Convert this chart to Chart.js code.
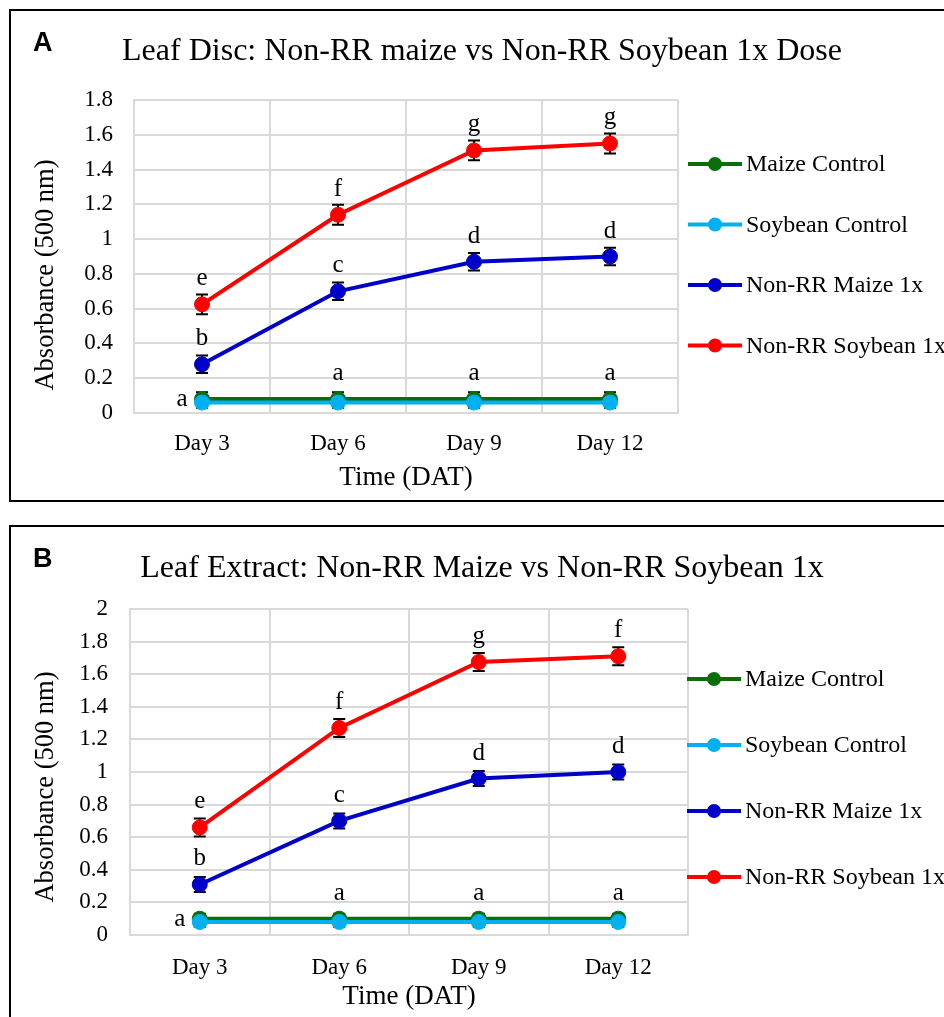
<!DOCTYPE html>
<html>
<head>
<meta charset="utf-8">
<script src="https://cdn.jsdelivr.net/npm/chart.js@4.4.0/dist/chart.umd.min.js"></script>
<style>
body{margin:0;background:#fff;overflow:hidden;width:944px;height:1017px;position:relative}
.panel{position:absolute;left:9px;width:1000px;border:2px solid #000;box-sizing:border-box}
#panelA{top:9px;height:493px}
#panelB{top:525px;height:600px}
canvas{position:absolute;left:12px}
#chartA{top:12px}
#chartB{top:528px}
.tag{position:absolute;left:33px;font:bold 27px "Liberation Sans",Arial,sans-serif;line-height:1}
.title{position:absolute;left:0;width:964px;text-align:center;font:32px "Liberation Serif","Times New Roman",serif;line-height:1;white-space:nowrap}
</style>
</head>
<body>
<div class="panel" id="panelA"></div>
<div class="panel" id="panelB"></div>
<canvas id="chartA" width="932" height="486"></canvas>
<canvas id="chartB" width="932" height="489"></canvas>
<div class="tag" style="top:29px">A</div>
<div class="tag" style="top:545px">B</div>
<div class="title" style="top:33px">Leaf Disc: Non-RR maize vs Non-RR Soybean 1x Dose</div>
<div class="title" style="top:550px">Leaf Extract: Non-RR Maize vs Non-RR Soybean 1x</div>
<script>
const days = ['Day 3', 'Day 6', 'Day 9', 'Day 12'];
const seriesNames = ['Maize Control', 'Soybean Control', 'Non-RR Maize 1x', 'Non-RR Soybean 1x'];
const seriesColors = ['#0a6e0a', '#00b0f0', '#0000c8', '#ff0000'];

// A: leaf disc
const discMaizeCtrl = [0.08, 0.08, 0.08, 0.08];
const discSoyCtrl = [0.06, 0.06, 0.06, 0.06];
const discMaize1x = [0.28, 0.70, 0.87, 0.90];
const discSoy1x = [0.625, 1.14, 1.51, 1.55];
const discMaizeCtrlErr = [0.04, 0.04, 0.04, 0.04];
const discSoyCtrlErr = [0.03, 0.03, 0.03, 0.03];
const discMaize1xErr = [0.05, 0.05, 0.05, 0.05];
const discSoy1xErr = [0.057, 0.057, 0.057, 0.057];
const discCtrlLetters = ['a', 'a', 'a', 'a'];
const discMaizeLetters = ['b', 'c', 'd', 'd'];
const discSoyLetters = ['e', 'f', 'g', 'g'];

// B: leaf extract
const extMaizeCtrl = [0.10, 0.10, 0.10, 0.10];
const extSoyCtrl = [0.08, 0.08, 0.08, 0.08];
const extMaize1x = [0.31, 0.70, 0.96, 1.00];
const extSoy1x = [0.66, 1.27, 1.675, 1.71];
const extMaizeCtrlErr = [0.03, 0.03, 0.03, 0.03];
const extSoyCtrlErr = [0.03, 0.03, 0.03, 0.03];
const extMaize1xErr = [0.046, 0.046, 0.046, 0.046];
const extSoy1xErr = [0.055, 0.055, 0.055, 0.055];
const extCtrlLetters = ['a', 'a', 'a', 'a'];
const extMaizeLetters = ['b', 'c', 'd', 'd'];
const extSoyLetters = ['e', 'f', 'g', 'f'];

const serif = '"Liberation Serif", "Times New Roman", serif';
const gridColor = '#d9d9d9';

// error bars behind the lines; letters, y title and legend on top
const extras = {
	id: 'extras',
	beforeDatasetsDraw(chart) {
		const ctx = chart.ctx;
		const y = chart.scales.y;
		ctx.save();
		ctx.strokeStyle = '#000';
		ctx.lineWidth = 2;
		chart.data.datasets.forEach((ds, i) => {
			const meta = chart.getDatasetMeta(i);
			meta.data.forEach((pt, j) => {
				const top = y.getPixelForValue(ds.data[j] + ds.err[j]);
				const bot = y.getPixelForValue(ds.data[j] - ds.err[j]);
				ctx.beginPath();
				ctx.moveTo(pt.x, top); ctx.lineTo(pt.x, bot);
				ctx.moveTo(pt.x - 6, top); ctx.lineTo(pt.x + 6, top);
				ctx.moveTo(pt.x - 6, bot); ctx.lineTo(pt.x + 6, bot);
				ctx.stroke();
			});
		});
		ctx.restore();
	},
	afterDatasetsDraw(chart, args, opts) {
		const ctx = chart.ctx;
		ctx.save();
		ctx.fillStyle = '#000';
		ctx.font = '25px ' + serif;
		ctx.textAlign = 'center';
		ctx.textBaseline = 'alphabetic';
		chart.data.datasets.forEach((ds, i) => {
			if (!ds.letters) return;
			const meta = chart.getDatasetMeta(i);
			meta.data.forEach((pt, j) => {
				if (ds.isControl && j === 0) {
					ctx.fillText(ds.letters[j], pt.x - 20, pt.y + 7);
				} else {
					ctx.fillText(ds.letters[j], pt.x, pt.y - 19);
				}
			});
		});

		// y axis title
		ctx.save();
		ctx.translate(34, opts.yTitleY);
		ctx.rotate(-Math.PI / 2);
		ctx.font = '26.5px ' + serif;
		ctx.textBaseline = 'middle';
		ctx.fillText('Absorbance (500 nm)', 0, 0);
		ctx.restore();

		// legend
		ctx.font = '24px ' + serif;
		ctx.textAlign = 'left';
		ctx.textBaseline = 'middle';
		chart.data.datasets.forEach((ds, i) => {
			const ly = opts.y + i * opts.gap;
			ctx.strokeStyle = ds.borderColor;
			ctx.lineWidth = 4;
			ctx.beginPath();
			ctx.moveTo(opts.x, ly); ctx.lineTo(opts.x + 54, ly);
			ctx.stroke();
			ctx.fillStyle = ds.borderColor;
			ctx.beginPath();
			ctx.arc(opts.x + 27, ly, 7, 0, Math.PI * 2);
			ctx.fill();
			ctx.fillStyle = '#000';
			ctx.fillText(ds.label, opts.x + 58, ly + 1);
		});
		ctx.restore();
	}
};

function makeDataset(idx, values, errs, letters, isControl) {
	return {
		label: seriesNames[idx],
		data: values,
		err: errs,
		letters: letters,
		isControl: isControl,
		borderColor: seriesColors[idx],
		backgroundColor: seriesColors[idx],
		borderWidth: 4,
		pointRadius: 7.5,
		pointBorderWidth: 1,
		pointHoverRadius: 7.5,
		order: 3 - idx,
	};
}

function makeChart(id, p) {
	return new Chart(document.getElementById(id), {
		type: 'line',
		data: {
			labels: days,
			datasets: [
				makeDataset(0, p.maizeCtrl, p.maizeCtrlErr, p.ctrlLetters, true),
				makeDataset(1, p.soyCtrl, p.soyCtrlErr, null, true),
				makeDataset(2, p.maize1x, p.maize1xErr, p.maizeLetters, false),
				makeDataset(3, p.soy1x, p.soy1xErr, p.soyLetters, false),
			],
		},
		options: {
			responsive: false,
			animation: false,
			layout: { padding: { left: 0, right: p.right, top: p.top, bottom: 0 } },
			plugins: {
				legend: { display: false },
				tooltip: { enabled: false },
				title: { display: false },
				extras: p.legend,
			},
			scales: {
				x: {
					offset: true,
					grid: { offset: true, color: gridColor, lineWidth: 2, drawTicks: false },
					border: { color: gridColor, width: 2 },
					ticks: { color: '#000', font: { family: serif, size: 23 }, padding: p.xPad, maxRotation: 0 },
					title: {
						display: true,
						text: 'Time (DAT)',
						color: '#000',
						font: { family: serif, size: 27 },
						padding: { top: 0, bottom: 3.8 },
					},
					afterFit(s) { s.height = p.xHeight; },
				},
				y: {
					min: 0,
					max: p.max,
					grid: { color: gridColor, lineWidth: 2, drawTicks: false },
					border: { color: gridColor, width: 2 },
					ticks: {
						stepSize: 0.2,
						color: '#000',
						font: { family: serif, size: 23 },
						padding: p.yPad,
						callback: (v) => String(Math.round(v * 10) / 10),
					},
					afterFit(s) { s.width = p.yWidth; },
				},
			},
		},
		plugins: [extras],
	});
}

makeChart('chartA', {
	max: 1.8,
	maizeCtrl: discMaizeCtrl, soyCtrl: discSoyCtrl, maize1x: discMaize1x, soy1x: discSoy1x,
	maizeCtrlErr: discMaizeCtrlErr, soyCtrlErr: discSoyCtrlErr, maize1xErr: discMaize1xErr, soy1xErr: discSoy1xErr,
	ctrlLetters: discCtrlLetters, maizeLetters: discMaizeLetters, soyLetters: discSoyLetters,
	right: 266, top: 88, yWidth: 122, xHeight: 85, xPad: 17, yPad: 21,
	legend: { x: 676, y: 152, gap: 60.5, yTitleY: 263 },
});

makeChart('chartB', {
	max: 2,
	maizeCtrl: extMaizeCtrl, soyCtrl: extSoyCtrl, maize1x: extMaize1x, soy1x: extSoy1x,
	maizeCtrlErr: extMaizeCtrlErr, soyCtrlErr: extSoyCtrlErr, maize1xErr: extMaize1xErr, soy1xErr: extSoy1xErr,
	ctrlLetters: extCtrlLetters, maizeLetters: extMaizeLetters, soyLetters: extSoyLetters,
	right: 256, top: 81, yWidth: 118, xHeight: 82, xPad: 19, yPad: 22,
	legend: { x: 675, y: 151, gap: 66, yTitleY: 259 },
});
</script>
</body>
</html>
